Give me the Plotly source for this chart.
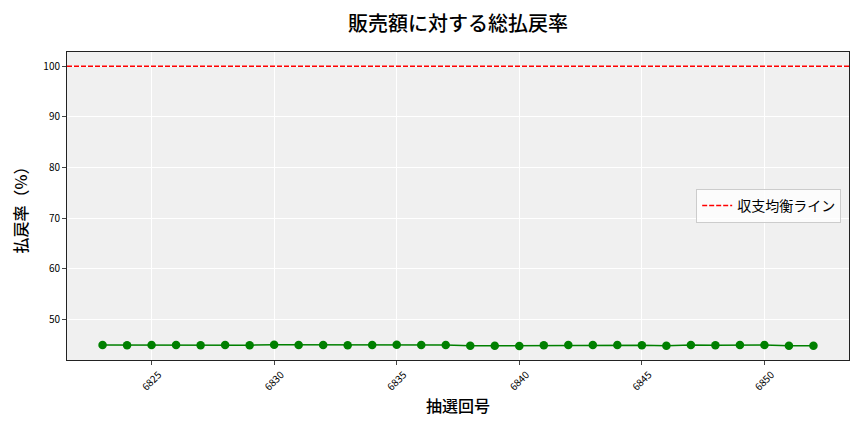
import plotly.graph_objects as go

# 抽選回号と総払戻率(%)
draws = list(range(6823, 6853))
payout_rate = [44.90, 44.88, 44.92, 44.90, 44.88, 44.93, 44.88, 44.95, 44.93, 44.90,
               44.87, 44.90, 44.95, 44.90, 44.92, 44.75, 44.78, 44.72, 44.85, 44.90,
               44.90, 44.92, 44.85, 44.75, 44.90, 44.88, 44.90, 44.92, 44.75, 44.75]
breakeven = 100
x_ticks = [6825, 6830, 6835, 6840, 6845, 6850]
y_ticks = [50, 60, 70, 80, 90, 100]

font_jp = "Noto Sans CJK JP"

fig = go.Figure()
fig.add_trace(go.Scatter(
    x=draws, y=payout_rate, mode="lines+markers",
    line=dict(color="green", width=1.5),
    marker=dict(color="green", size=8.5),
    showlegend=False,
))
fig.add_hline(y=breakeven, line_dash="5px,2px", line_color="red", line_width=1.5,
              name="収支均衡ライン", showlegend=True)

fig.update_layout(
    width=864, height=432,
    margin=dict(l=59, r=23, t=44, b=80),
    paper_bgcolor="white", plot_bgcolor="#f0f0f0",
    font=dict(family=font_jp, color="black"),
    title=dict(text="販売額に対する総払戻率", xref="paper", x=0.5, xanchor="center",
               y=0.963, yanchor="middle",
               font=dict(size=20, family=font_jp, weight=500)),
    legend=dict(x=0.99, xanchor="right", y=0.5, yanchor="middle",
                bgcolor="rgba(255,255,255,0.8)", bordercolor="#cccccc", borderwidth=1,
                font=dict(size=14, family=font_jp)),
)
fig.update_xaxes(
    range=[6821.55, 6853.45], tickvals=x_ticks, tickangle=-45,
    tickfont=dict(size=10), ticks="outside", ticklen=4, ticklabelshift=7,
    showline=True, linecolor="#222", linewidth=1, mirror=True,
    gridcolor="white", gridwidth=1, zeroline=False,
    title=dict(text="抽選回号", font=dict(size=16, weight=500), standoff=8),
)
fig.update_yaxes(
    range=[41.95, 102.8], tickvals=y_ticks,
    tickfont=dict(size=10), ticks="outside", ticklen=4,
    showline=True, linecolor="#222", linewidth=1, mirror=True,
    gridcolor="white", gridwidth=1, zeroline=False,
    title=dict(text="払戻率（%）", font=dict(size=16, weight=500), standoff=12),
)

fig.write_html("out.html")
